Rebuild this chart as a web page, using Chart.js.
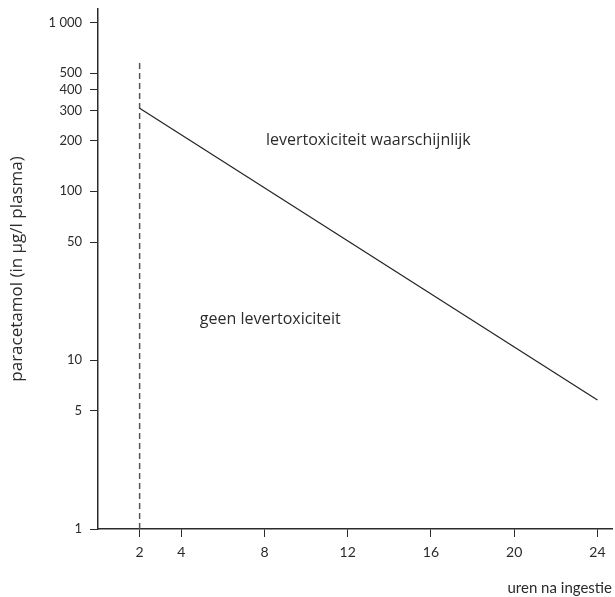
<!DOCTYPE html>
<html>
<head>
<meta charset="utf-8">
<script src="https://cdn.jsdelivr.net/npm/chart.js@4.4.1/dist/chart.umd.min.js"></script>
<style>
  html, body { margin: 0; padding: 0; background: #fff; }
  #wrap { width: 615px; height: 597px; }
</style>
</head>
<body>
<div id="wrap"><canvas id="nomogram"></canvas></div>
<script>
// behandellijn paracetamol
const lineHours = [2, 24];
const lineConc  = [310, 5.8];

// verticale stippellijn op 2 uur
const cutoffHours = [2, 2];
const cutoffConc  = [1, 600];

const xTicks      = [2, 4, 8, 12, 16, 20, 24];
const yTicks      = [1, 5, 10, 50, 100, 200, 300, 400, 500, 1000];
const yTickLabels = ['1', '5', '10', '50', '100', '200', '300', '400', '500', '1 000'];

const zoneLabels = ['levertoxiciteit waarschijnlijk', 'geen levertoxiciteit'];
const zoneHours  = [8.07, 4.89];
const zoneConc   = [200, 17.5];

const ink = '#2b2b2b';
const fontFam = 'Lato, "Open Sans", sans-serif';
const textFam = '"Open Sans", sans-serif';

// tekst in de grafiek, geplaatst via de schalen
const zoneText = {
    id: 'zoneText',
    afterDatasetsDraw(chart) {
        const { ctx, scales: { x, y } } = chart;
        ctx.save();
        ctx.fillStyle = ink;
        ctx.font = '16px ' + textFam;
        ctx.textAlign = 'left';
        ctx.textBaseline = 'middle';
        zoneLabels.forEach((t, i) => {
            ctx.fillText(t, x.getPixelForValue(zoneHours[i]), y.getPixelForValue(zoneConc[i]));
        });
        ctx.restore();
    }
};

new Chart(document.getElementById('nomogram'), {
    type: 'line',
    data: {
        datasets: [{
            data: lineHours.map((h, i) => ({ x: h, y: lineConc[i] })),
            borderColor: '#222',
            borderWidth: 1.2,
            pointRadius: 0,
            fill: false,
        }, {
            data: cutoffHours.map((h, i) => ({ x: h, y: cutoffConc[i] })),
            borderColor: '#555',
            borderWidth: 1.5,
            borderDash: [6, 4],
            pointRadius: 0,
            fill: false,
        }]
    },
    options: {
        responsive: true,
        maintainAspectRatio: false,
        animation: false,
        layout: { padding: { top: 9, right: 3, left: 0, bottom: 0 } },
        scales: {
            x: {
                type: 'linear',
                min: 0,
                max: 24.7,
                afterBuildTicks: s => { s.ticks = xTicks.map(v => ({ value: v })); },
                afterFit: s => { s.height = 68; },
                border: { display: true, color: ink, width: 1.5 },
                grid: { drawOnChartArea: false, drawTicks: true, tickLength: 8, color: ink },
                ticks: { color: ink, font: { family: fontFam, size: 14 }, padding: 7, maxRotation: 0 },
                title: {
                    display: true,
                    text: 'uren na ingestie',
                    align: 'end',
                    color: ink,
                    font: { family: fontFam, size: 15 },
                    padding: { top: 0, bottom: 0 },
                },
            },
            y: {
                type: 'logarithmic',
                min: 1,
                max: 1200,
                afterBuildTicks: s => { s.ticks = yTicks.map(v => ({ value: v })); },
                afterFit: s => { s.width = 98; s.paddingTop = 0; s.paddingBottom = 0; },
                border: { display: true, color: ink, width: 1.5 },
                grid: { drawOnChartArea: false, drawTicks: true, tickLength: 8, color: ink },
                ticks: {
                    color: ink,
                    font: { family: fontFam, size: 13 },
                    padding: 8,
                    callback: v => yTickLabels[yTicks.indexOf(v)] ?? '',
                },
                title: {
                    display: true,
                    text: 'paracetamol (in µg/l plasma)',
                    color: ink,
                    font: { family: textFam, size: 17 },
                    padding: { top: 7, bottom: 0 },
                },
            }
        },
        plugins: {
            legend: { display: false },
            tooltip: { enabled: false },
        }
    },
    plugins: [zoneText]
});
</script>
</body>
</html>
